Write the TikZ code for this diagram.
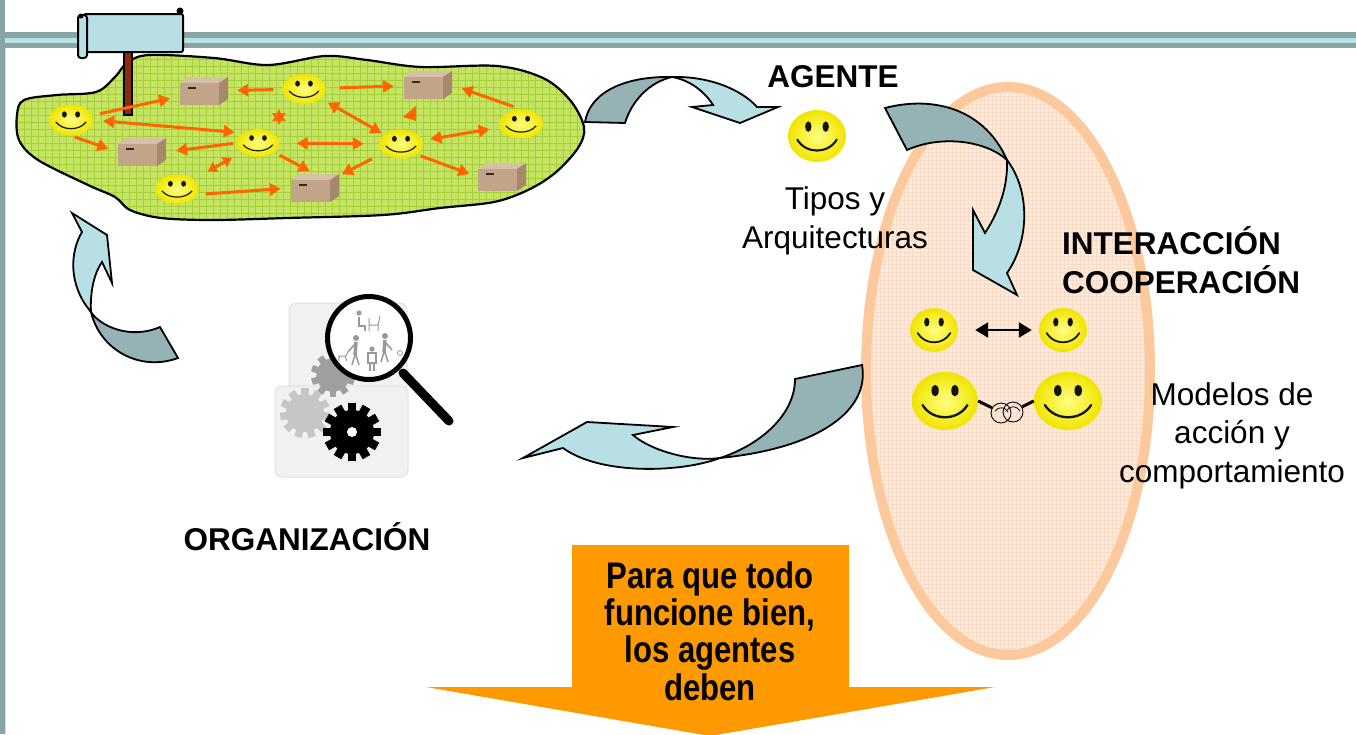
\documentclass[tikz,border=0pt]{standalone}
\usepackage{fontspec}
\setmainfont{Liberation Sans}
\newfontfamily\condbold{Liberation Sans Bold}[FakeStretch=0.84]
\usetikzlibrary{arrows.meta,shapes.geometric,calc}

\definecolor{barDark}{RGB}{137,164,166}
\definecolor{barLight}{RGB}{184,226,230}
\definecolor{islandFill}{RGB}{198,228,100}
\definecolor{islandGrid}{RGB}{166,207,58}
\definecolor{ringPeach}{RGB}{251,201,155}
\definecolor{ovalFill}{RGB}{253,236,222}
\definecolor{ovalGrid}{RGB}{248,220,200}
\definecolor{arrowDark}{RGB}{149,179,181}
\definecolor{arrowLight}{RGB}{184,224,228}
\definecolor{linkOrange}{RGB}{255,102,0}
\definecolor{bigOrange}{RGB}{255,153,0}
\definecolor{poleBrown}{RGB}{140,45,10}
\definecolor{faceYellow}{RGB}{240,228,0}
\definecolor{faceLight}{RGB}{255,255,130}
\definecolor{faceInk}{RGB}{20,20,10}
\definecolor{boxTop}{RGB}{214,192,168}
\definecolor{boxFront}{RGB}{194,164,136}
\definecolor{boxSide}{RGB}{168,136,108}
\definecolor{boxSlot}{RGB}{55,40,30}
\definecolor{panelGray}{RGB}{241,241,241}
\definecolor{panelEdge}{RGB}{226,226,226}

\tikzset{
  smileyface/.style={ellipse, inner sep=0pt, inner color=faceLight, outer color=faceYellow},
  cargo/.style={rectangle, inner sep=0pt, minimum width=48pt, minimum height=28pt},
  link/.style={draw=linkOrange, line width=3pt, shorten <=8pt, shorten >=10pt,
    -{Triangle[length=11pt,width=12pt]}},
  link2/.style={link, {Triangle[length=11pt,width=12pt]}-{Triangle[length=11pt,width=12pt]}},
  blockarrow/.style={draw=black, line width=1.8pt},
  lbl/.style={font=\fontsize{31.5}{38.5}\selectfont, inner sep=0pt, anchor=base, align=center},
  lblbold/.style={lbl, font=\fontsize{31.5}{38.5}\selectfont\bfseries},
  hand/.style={circle, draw, line width=0.9pt, minimum size=20pt, inner sep=0pt}
}

% smiley face: name, x, y, x radius, y radius
\newcommand\smileyat[5]{%
  \node[smileyface, minimum width={2*#4pt}, minimum height={2*#5pt}] (#1) at (#2,#3) {};
  \begin{scope}[shift={(#2,#3)}]
    \fill[faceInk] (-0.3*#4,-0.36*#5) ellipse [x radius={0.11*#4pt}, y radius={0.2*#5pt}];
    \fill[faceInk] (0.3*#4,-0.36*#5) ellipse [x radius={0.11*#4pt}, y radius={0.2*#5pt}];
    \draw[faceInk, line width={0.08*#5pt}, line cap=round]
      (-0.68*#4,0.14*#5) .. controls (-0.38*#4,0.7*#5) and (0.38*#4,0.7*#5) .. (0.68*#4,0.14*#5);
  \end{scope}}

% cardboard box: name, x, y
\newcommand\boxat[3]{%
  \node[cargo] (#1) at (#2,#3) {};
  \begin{scope}[shift={(#2,#3)}]
    \fill[boxTop] (-24,-8) -- (-16,-14) -- (24,-14) -- (15,-8) -- cycle;
    \fill[boxFront] (-24,-8) rectangle (15,14);
    \fill[boxSide] (15,-8) -- (24,-14) -- (24,8) -- (15,14) -- cycle;
    \fill[boxSlot] (-16,-4) rectangle (-8,-2);
  \end{scope}}

% gear wheel: x, y, radius, teeth, colour
\newcommand\gearat[5]{%
  \fill[#5] (#1,#2) circle [radius={0.76*#3pt}];
  \foreach \k in {1,...,#4} {
    \fill[#5, rotate around={\k*360/#4:(#1,#2)}]
      ({#1-0.15*#3},{#2-#3}) rectangle ({#1+0.15*#3},{#2-0.7*#3});
  }}

\def\blobpath{plot[smooth cycle, tension=0.55] coordinates {
  (17,115) (24,100) (57,95) (96,92) (115,77) (127,63) (149,55) (214,58)
  (268,65) (325,56) (367,60) (421,67) (497,66) (543,78) (570,100) (584,127)
  (578,148) (555,173) (528,190) (494,202) (440,208) (383,215) (287,218)
  (214,220) (161,218) (130,210) (115,197) (88,185) (38,160) (19,140)}}

\begin{document}
\begin{tikzpicture}[x=1pt,y=-1pt]
\useasboundingbox (0,0) rectangle (1356,734);
\clip (0,0) rectangle (1356,734);
\fill[white] (0,0) rectangle (1356,734);

% frame bars
\fill[barDark] (0,32) rectangle (1356,48);
\fill[barLight] (0,38) rectangle (1356,43);
\fill[barDark] (0,0) rectangle (4.5,734);
\fill[barLight] (4.5,48) rectangle (5.5,734);

% interaction oval
\fill[ovalFill] (1008,371) ellipse [x radius=142pt, y radius=284pt];
\begin{scope}
  \clip (1008,371) ellipse [x radius=142pt, y radius=284pt];
  \foreach \gx in {864,868,...,1152} \draw[ovalGrid, line width=0.6pt] (\gx,80) -- (\gx,662);
  \foreach \gy in {84,88,...,660} \draw[ovalGrid, line width=0.6pt] (860,\gy) -- (1156,\gy);
\end{scope}
\draw[ringPeach, line width=10pt] (1008,371) ellipse [x radius=142pt, y radius=284pt];

% island
\fill[islandFill] \blobpath;
\begin{scope}
  \clip \blobpath;
  \foreach \gx in {10,17,...,595} \draw[islandGrid, line width=0.7pt] (\gx,50) -- (\gx,225);
  \foreach \gy in {52,59,...,224} \draw[islandGrid, line width=0.7pt] (10,\gy) -- (595,\gy);
\end{scope}
\draw[line width=2.2pt] \blobpath;

% flag
\draw[line width=1.5pt, fill=poleBrown] (124,50) rectangle (132,115);
\draw[line width=2pt, fill=arrowLight, rounded corners=2pt] (84,14) rectangle (183,52);
\draw[line width=2pt, fill=arrowLight, rounded corners=3pt] (78,15) rectangle (87,58);
\fill (180,11) circle [radius=3.5pt];
\fill (81,16) circle [radius=2.5pt];

% agents and objects of the environment
\boxat{b1}{204}{91}
\boxat{b2}{428}{85}
\boxat{b3}{142}{152}
\boxat{b4}{315}{188}
\boxat{b5}{502}{177}
\smileyat{s1}{71}{120}{22}{15.5}
\smileyat{s2}{304}{89}{21.5}{15}
\smileyat{s3}{258}{143}{21.5}{14}
\smileyat{s4}{401}{144}{22}{14.5}
\smileyat{s5}{521}{124}{22}{14.5}
\smileyat{s6}{177}{189}{22}{14.5}

\draw[link] (s1) -- (b1);
\draw[link, shorten <=9pt, shorten >=9pt] (s2) -- (b1);
\draw[link, shorten <=14pt] (s2) -- (b2);
\draw[link] (s5.north) -- (b2.east);
\draw[link2, shorten <=10pt, shorten >=8pt] (s1.east) -- (s3.north west);
\draw[link, shorten <=4pt] (s1.south) -- (b3.west);
\draw[link, shorten <=3pt] (s3.west) -- (b3.east);
\draw[link2, shorten <=8pt, shorten >=3pt] (s2) -- (s4);
\draw[link2, shorten <=17pt, shorten >=15pt] (s3) -- (s4);
\draw[link2] (s4) -- (s5);
\draw[link, shorten <=6pt, shorten >=6pt] (s3.-30) -- (b4.north);
\draw[link, shorten <=13pt, shorten >=3pt] (s4) -- (b4);
\draw[link, shorten <=4pt, shorten >=9pt] (s4.south east) -- (b5.west);
\draw[link2, shorten <=16pt, shorten >=11pt,
  {Triangle[length=9pt,width=11pt]}-{Triangle[length=9pt,width=11pt]}] (s6) -- (s3);
\draw[link] (s6.-15) -- (b4.west);
\node[star, star points=6, star point ratio=1.9, fill=linkOrange, minimum size=16pt, inner sep=0pt] (spark) at (279,117) {};
\fill[linkOrange] (416,106) -- (416,121) -- (403,117) -- cycle;

% curved block arrows
\filldraw[blockarrow, fill=arrowDark] (585,122) .. controls (590,92) and (625,76) .. (672,77)
  .. controls (650,82) and (632,100) .. (625,123) -- cycle;
\filldraw[blockarrow, fill=arrowLight] (672,77) .. controls (710,76) and (742,90) .. (757,107)
  -- (778,107) -- (740,123) -- (692,107) -- (713,105) .. controls (705,92) and (690,80) .. (672,77) -- cycle;

\filldraw[blockarrow, fill=arrowDark] (885,108) .. controls (935,95) and (985,110) .. (1007,160)
  .. controls (985,140) and (940,135) .. (907,150) -- cycle;
\filldraw[blockarrow, fill=arrowLight] (1007,160) .. controls (1030,190) and (1030,240) .. (1007,273)
  -- (1017,295) -- (973,270) -- (973,210) -- (985,233) .. controls (1000,210) and (1008,185) .. (1007,160) -- cycle;

\filldraw[blockarrow, fill=arrowDark] (178,358) .. controls (140,372) and (100,350) .. (91,312)
  .. controls (100,326) and (130,340) .. (160,327) -- cycle;
\filldraw[blockarrow, fill=arrowLight] (91,312) .. controls (68,285) and (70,252) .. (82,232)
  -- (72,213) -- (107,235) -- (112,283) -- (102,262) .. controls (93,275) and (90,295) .. (91,312) -- cycle;

\filldraw[blockarrow, fill=arrowDark] (862,365) .. controls (870,410) and (820,448) .. (720,458)
  .. controls (760,445) and (795,415) .. (795,379) -- cycle;
\filldraw[blockarrow, fill=arrowLight] (720,458) .. controls (680,473) and (600,475) .. (563,448)
  -- (523,458) -- (587,422) -- (673,427) -- (633,435) .. controls (650,450) and (690,462) .. (720,458) -- cycle;

% organisation icon
\filldraw[fill=panelGray, draw=panelEdge, line width=1pt, rounded corners=7pt] (289,303) rectangle (407,392);
\filldraw[fill=panelGray, draw=panelEdge, line width=1pt, rounded corners=7pt] (275,386) rectangle (408,477);
\gearat{333}{375}{22}{10}{gray!75}
\gearat{305}{413}{25}{11}{gray!45}
\gearat{352}{432}{29}{12}{black}
\fill[white] (352,432) circle [radius=5pt];
\draw[line width=9pt, line cap=round] (403,373) -- (449,421);
\draw[line width=5pt, fill=white] (369,338) circle [radius=41.5pt];
\begin{scope}[gray!80]
  \fill (359,313) circle [radius=2.6pt];
  \draw[line width=2.6pt] (359,317) -- (359,326) -- (365,326) -- (365,331);
  \draw[line width=1pt] (369,318) -- (369,331) (369,325) -- (378,325) -- (378,331) (378,325) -- (380,316);
  \fill (356,338) circle [radius=3pt];
  \draw[line width=3.5pt] (356,342) -- (355,355);
  \draw[line width=1.5pt] (355,355) -- (352,365) (356,355) -- (359,365) (355,344) -- (348,352);
  \draw[line width=1pt] (338,356) -- (346,356) (340,356) -- (338,361) (345,356) -- (347,361) (346,356) -- (348,352);
  \fill (385,336) circle [radius=3pt];
  \draw[line width=3.5pt] (385,340) -- (384,352);
  \draw[line width=1.5pt] (384,352) -- (381,362) (385,352) -- (388,362) (386,343) -- (392,350);
  \fill (372,349) circle [radius=2.6pt];
  \draw[line width=1.2pt] (368,353) rectangle (376,363);
  \draw[line width=1.2pt] (370,363) -- (370,371) (374,363) -- (374,371);
  \draw[line width=0.8pt] (400,353) circle [radius=2.5pt];
\end{scope}

% agent and interaction faces
\smileyat{ag}{817}{136}{29}{26}
\smileyat{i1}{934}{330}{24}{22}
\smileyat{i2}{1063}{330}{24}{22}
\smileyat{i3}{945}{401}{33}{29}
\smileyat{i4}{1068}{401}{34}{29}
\draw[line width=2.5pt, {Triangle[length=13pt,width=15pt]}-{Triangle[length=13pt,width=15pt]},
  shorten <=17pt, shorten >=7pt] (i1) -- (i2);
\node[hand] (h1) at (1001,413) {};
\node[hand] (h2) at (1013,412) {};
\draw[line width=0.8pt] (995,411) .. controls (999,406) and (1005,407) .. (1008,412);
\draw[line width=0.8pt] (1007,410) .. controls (1011,405) and (1017,406) .. (1020,411);
\draw[line width=3pt] (i3.east) -- (h1.150);
\draw[line width=3pt] (h2.30) -- (i4.west);

% labels (a multi-line node sits on the baseline of its last line)
\node[lblbold] (agente) at (833,87) {AGENTE};
\node[lbl] (tipos) at (835,248) {Tipos y\\Arquitecturas};
\node[lblbold, align=left, anchor=base west] (inter) at (1062,293) {INTERACCIÓN\\COOPERACIÓN};
\node[lbl] (modelos) at (1232,482) {Modelos de\\acción y\\comportamiento};
\node[lblbold] (org) at (307,550) {ORGANIZACIÓN};

% closing arrow
\fill[bigOrange] (572,545) -- (849,545) -- (849,687) -- (995,687) -- (710,736) -- (426,687) -- (572,687) -- cycle;
\node[font=\condbold\fontsize{37}{37.3}\selectfont, align=center, anchor=base, inner sep=0pt] (must)
  at (710,700) {Para que todo\\funcione bien,\\los agentes\\deben};
\end{tikzpicture}
\end{document}
